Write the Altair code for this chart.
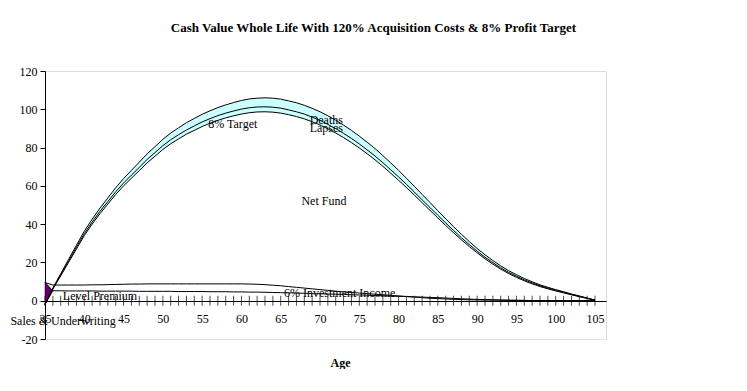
import altair as alt
import pandas as pd

ages = list(range(35, 106))

net_fund = [-2, 6, 13, 20, 27, 34, 40, 45.5, 50.5, 55.5,
            60, 64, 68, 72, 75.5, 79, 82, 84.5, 87, 89,
            91, 92.7, 94.2, 95.5, 96.6, 97.5, 98.2, 98.6, 98.7, 98.5,
            98, 97.2, 96.2, 95, 93.5, 91.8, 89.8, 87.6, 85.2, 82.6,
            79.8, 76.8, 73.6, 70.2, 66.6, 62.9, 59.1, 55.2, 51.2, 47.2,
            43.2, 39.3, 35.5, 31.8, 28.3, 25, 21.9, 19.1, 16.5, 14.2,
            12.2, 10.4, 8.8, 7.4, 6.2, 5.1, 4.1, 3.1, 2.1, 1.2, 0.3]

lapses = [0, 0.3, 0.5, 0.7, 0.9, 1.0, 1.1, 1.2, 1.3, 1.4,
          1.5, 1.6, 1.7, 1.8, 1.9, 2.0, 2.1, 2.2, 2.2, 2.3,
          2.4, 2.4, 2.5, 2.5, 2.5, 2.6, 2.6, 2.6, 2.6, 2.6,
          2.6, 2.5, 2.5, 2.5, 2.4, 2.4, 2.3, 2.3, 2.2, 2.2,
          2.1, 2.0, 2.0, 1.9, 1.8, 1.8, 1.7, 1.6, 1.5, 1.5,
          1.4, 1.3, 1.2, 1.1, 1.0, 0.9, 0.8, 0.8, 0.7, 0.6,
          0.6, 0.5, 0.5, 0.4, 0.4, 0.3, 0.3, 0.2, 0.2, 0.1, 0]

deaths = [0, 0.3, 0.6, 0.9, 1.1, 1.3, 1.5, 1.7, 1.9, 2.1,
          2.3, 2.5, 2.7, 2.9, 3.1, 3.3, 3.5, 3.6, 3.8, 3.9,
          4.0, 4.1, 4.2, 4.3, 4.4, 4.5, 4.6, 4.6, 4.7, 4.7,
          4.7, 4.7, 4.7, 4.6, 4.6, 4.5, 4.5, 4.4, 4.3, 4.2,
          4.1, 4.0, 3.9, 3.7, 3.6, 3.4, 3.2, 3.0, 2.8, 2.6,
          2.4, 2.2, 2.0, 1.8, 1.6, 1.4, 1.3, 1.1, 1.0, 0.9,
          0.8, 0.7, 0.6, 0.5, 0.4, 0.4, 0.3, 0.2, 0.2, 0.1, 0]

level_premium = [9.5, 8.2, 8.2, 8.2, 8.2, 8.2, 8.3, 8.3, 8.4, 8.5,
                 8.6, 8.7, 8.7, 8.8, 8.8, 8.8, 8.8, 8.8, 8.8, 8.8,
                 8.8, 8.8, 8.8, 8.8, 8.8, 8.8, 8.7, 8.6, 8.4, 8.1,
                 7.8, 7.4, 7.0, 6.6, 6.2, 5.8, 5.4, 5.0, 4.6, 4.3,
                 4.0, 3.7, 3.4, 3.1, 2.8, 2.5, 2.2, 1.9, 1.6, 1.3,
                 1.1, 0.9, 0.7, 0.6, 0.5, 0.4, 0.35, 0.3, 0.25, 0.2,
                 0.2, 0.15, 0.1, 0.1, 0.1, 0.05, 0.05, 0, 0, 0, 0]

investment_income = [9.5, 5.2, 5.2, 5.1, 5.1, 5.1, 5.1, 5.0, 5.0, 5.0,
                     5.0, 5.0, 4.9, 4.9, 4.9, 4.9, 4.9, 4.8, 4.8, 4.8,
                     4.8, 4.7, 4.7, 4.7, 4.6, 4.6, 4.5, 4.5, 4.4, 4.3,
                     4.2, 4.1, 4.0, 3.9, 3.7, 3.6, 3.5, 3.4, 3.3, 3.1,
                     3.0, 2.9, 2.7, 2.6, 2.4, 2.3, 2.2, 2.0, 1.9, 1.7,
                     1.6, 1.4, 1.2, 1.0, 0.85, 0.7, 0.6, 0.5, 0.4, 0.3,
                     0.2, 0.15, 0.1, 0.1, 0.05, 0.05, 0, 0, 0, 0, 0]

sales_ages = [35, 36]
sales_low = [-2, 5]
sales_high = [9.5, 5]

label_text = ["8% Target", "Deaths", "Lapses", "Net Fund", "Level Premium",
              "6% Investment Income", "Sales & Underwriting"]
label_age = [58.9, 70.8, 70.8, 70.5, 42.0, 72.5, 37.3]
label_value = [92.3, 94.6, 90.4, 52.2, 2.6, 4.0, -10.5]

tick_ages = ages
axis_ages = list(range(35, 106, 5))

df = pd.DataFrame({
    "age": ages,
    "net": net_fund,
    "lapses": lapses,
    "deaths": deaths,
    "premium": level_premium,
    "income": investment_income,
})
df["mid"] = df["net"] + df["lapses"]
df["top"] = df["mid"] + df["deaths"]

sales_df = pd.DataFrame({"age": sales_ages, "lo": sales_low, "hi": sales_high})
labels_df = pd.DataFrame({"age": label_age, "value": label_value, "text": label_text})
ticks_df = pd.DataFrame({"age": tick_ages})

FONT = "Liberation Serif"

xscale = alt.Scale(domain=[35, 106.4], nice=False, zero=False)
yscale = alt.Scale(domain=[-20, 120], nice=False)

xaxis = alt.Axis(values=axis_ages, format="d", offset=-38, ticks=False, grid=False,
                 domainColor="black", labelColor="black", labelFont=FONT,
                 labelFontSize=12, labelPadding=12, labelFlush=False,
                 title="Age", titleFont=FONT, titleFontSize=12, titleFontWeight="bold",
                 titleColor="black", titleX=295, titleY=61, titleAlign="center",
                 titleBaseline="middle", titleAnchor="start")
yaxis = alt.Axis(values=list(range(-20, 121, 20)), grid=False, tickSize=5,
                 tickColor="black", domainColor="black", labelColor="black",
                 labelExpr="'' + datum.value",
                 labelFont=FONT, labelFontSize=12, labelPadding=3, title=None)

X = alt.X("age:Q", scale=xscale, axis=xaxis)


def Y(field):
    return alt.Y(f"{field}:Q", scale=yscale, axis=yaxis)


base = alt.Chart(df)

band_lapses = base.mark_area(color="#CCFFFF", opacity=1).encode(x=X, y=Y("net"), y2="mid:Q")
band_deaths = base.mark_area(color="#CCFFFF", opacity=1).encode(x=X, y=Y("mid"), y2="top:Q")

line_style = dict(color="black", strokeWidth=1)
l_net = base.mark_line(**line_style).encode(x=X, y=Y("net"))
l_mid = base.mark_line(**line_style).encode(x=X, y=Y("mid"))
l_top = base.mark_line(**line_style).encode(x=X, y=Y("top"))
l_prem = base.mark_line(**line_style).encode(x=X, y=Y("premium"))
l_inc = base.mark_line(**line_style).encode(x=X, y=Y("income"))

sales = alt.Chart(sales_df).mark_area(color="#660066", stroke="black", strokeWidth=0.5).encode(
    x=X, y=Y("lo"), y2="hi:Q")

ticks = alt.Chart(ticks_df).mark_tick(orient="vertical", color="black", size=10, thickness=1).encode(
    x=X, y=alt.Y("datum_zero:Q", scale=yscale, axis=yaxis)
).transform_calculate(datum_zero="0")

texts = alt.Chart(labels_df).mark_text(font=FONT, fontSize=12, color="black", align="center",
                                       baseline="middle").encode(
    x=X, y=Y("value"), text="text:N")

chart = alt.layer(
    band_lapses, band_deaths, l_prem, l_inc, sales, l_net, l_mid, l_top, ticks, texts
).properties(
    width=561, height=268,
    title=alt.TitleParams(
        "Cash Value Whole Life With 120% Acquisition Costs & 8% Profit Target",
        font=FONT, fontSize=13, fontWeight="bold", color="black",
        anchor="middle", dx=48, offset=30),
    autosize=alt.AutoSizeParams(type="none"),
    padding={"left": 37, "top": 63, "right": 120, "bottom": 30},
).configure_view(stroke="#808080", strokeWidth=1).configure(background="white")

chart.save("out.html", embed_options={"renderer": "svg", "actions": False})
